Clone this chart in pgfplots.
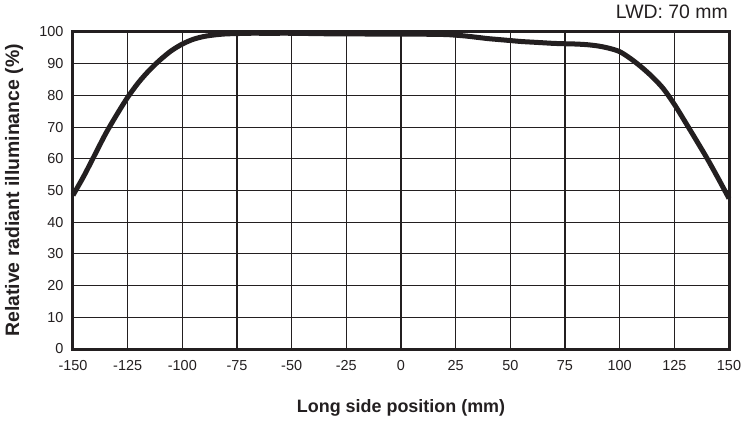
\documentclass[border=0pt]{standalone}
\usepackage{pgfplots}
\pgfplotsset{compat=1.18}
\usepackage{fontspec}
\setmainfont{Liberation Sans}
\usetikzlibrary{calc}
\definecolor{ink}{HTML}{231F20}
\begin{document}
\begin{tikzpicture}
\begin{axis}[
  scale only axis,
  width=656bp, height=317bp,
  xmin=-150, xmax=150, ymin=0, ymax=100,
  xtick={-150,-125,...,150},
  ytick={0,10,...,100},
  grid=major,
  grid style={line width=1.1bp, ink},
  major tick length=0pt,
  axis line style={line width=3bp, ink},
  /pgf/number format/assume math mode=true,
  ticklabel style={font=\fontsize{14.5}{16}\selectfont, text=ink},
  xticklabel style={yshift=-8bp},
  yticklabel style={xshift=-6bp},
  xlabel={Long side position (mm)},
  ylabel={Relative radiant illuminance (\%)},
  xlabel style={font=\bfseries\fontsize{18}{20}\selectfont, text=ink, at={(axis description cs:0.5,-0.1861)}, anchor=center},
  ylabel style={font=\bfseries\fontsize{19.5}{21}\selectfont, text=ink, at={(axis description cs:-0.0899,0.5)}, anchor=center},
  clip=false,
]
\addplot[ink, line width=5bp, smooth] coordinates {
(-150,48.5) (-145,54.6) (-140,61.3) (-135,68.0) (-130,73.9) (-125,79.4) (-120,84.1) (-115,88.0) (-110,91.3) (-105,94.1) (-100,96.2) (-95,97.7) (-90,98.6) (-85,99.1) (-80,99.4) (-75,99.5) (-70,99.6) (-60,99.6) (-50,99.6) (-40,99.5) (-30,99.4) (-20,99.4) (-10,99.3) (0,99.3) (10,99.3) (20,99.2) (25,99.0) (30,98.7) (35,98.3) (40,97.9) (45,97.6) (50,97.3) (55,97.0) (60,96.8) (65,96.6) (70,96.4) (75,96.3) (80,96.2) (85,96.0) (90,95.6) (95,94.9) (100,93.8) (105,91.6) (110,88.9) (115,85.8) (120,82.1) (125,77.2) (130,71.6) (135,65.9) (140,60.1) (145,53.9) (150,47.5)
};
\coordinate (bl) at (rel axis cs:0,0);
\coordinate (tr) at (rel axis cs:1,1);
\node[anchor=east, inner sep=0pt, text=ink, font=\fontsize{19.5}{21}\selectfont] at ($(rel axis cs:1,1)+(-1bp,20bp)$) {LWD: 70 mm};
\end{axis}
\pgfresetboundingbox
\path ($(bl)+(-73bp,-73bp)$) rectangle ($(tr)+(20bp,32bp)$);
\end{tikzpicture}
\end{document}
